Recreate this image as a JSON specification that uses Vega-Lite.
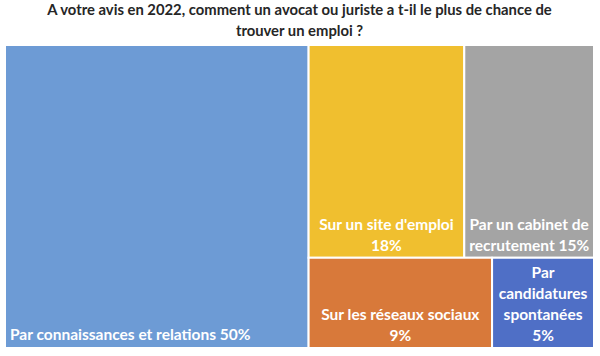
{
  "$schema": "https://vega.github.io/schema/vega-lite/v6.json",
  "width": 589,
  "height": 303,
  "autosize": "none",
  "padding": {"left": 5, "top": 45, "right": 6, "bottom": 8},
  "background": "white",
  "title": {
    "text": ["A votre avis en 2022, comment un avocat ou juriste a t-il le plus de chance de", "trouver un emploi ?"],
    "font": "Lato",
    "fontSize": 14.8,
    "fontWeight": "bold",
    "color": "#262626",
    "anchor": "middle",
    "lineHeight": 21,
    "offset": 5
  },
  "config": {"view": {"stroke": null}},
  "data": {
    "values": [
      {"categorie": "Par connaissances et relations", "pct": 50, "col": "A", "row": "A", "ord": 1, "label": ["Par connaissances et relations 50%"]},
      {"categorie": "Sur un site d'emploi", "pct": 18, "col": "B", "row": "1", "ord": 2, "label": ["Sur un site d'emploi", "18%"]},
      {"categorie": "Par un cabinet de recrutement", "pct": 15, "col": "B", "row": "1", "ord": 3, "label": ["Par un cabinet de", "recrutement 15%"]},
      {"categorie": "Sur les réseaux sociaux", "pct": 9, "col": "B", "row": "2", "ord": 4, "label": ["Sur les réseaux sociaux", "9%"]},
      {"categorie": "Par candidatures spontanées", "pct": 5, "col": "B", "row": "2", "ord": 5, "label": ["Par", "candidatures", "spontanées", "5%"]}
    ]
  },
  "transform": [
    {"window": [{"op": "sum", "field": "pct", "as": "cumAll"}], "sort": [{"field": "ord"}], "frame": [null, 0]},
    {"window": [{"op": "sum", "field": "pct", "as": "colCum"}], "groupby": ["col"], "sort": [{"field": "ord"}], "frame": [null, 0]},
    {"window": [{"op": "sum", "field": "pct", "as": "rowCum"}], "groupby": ["col", "row"], "sort": [{"field": "ord"}], "frame": [null, 0]},
    {"joinaggregate": [{"op": "sum", "field": "pct", "as": "colSum"}], "groupby": ["col"]},
    {"joinaggregate": [{"op": "sum", "field": "pct", "as": "rowSum"}], "groupby": ["col", "row"]},
    {"calculate": "datum.cumAll - datum.colCum", "as": "colStart"},
    {"calculate": "datum.colCum - datum.rowCum", "as": "rowStart"},
    {"calculate": "datum.rowStart / datum.colSum", "as": "y0"},
    {"calculate": "(datum.rowStart + datum.rowSum) / datum.colSum", "as": "y1"},
    {"calculate": "datum.colStart + (datum.rowCum - datum.pct) / datum.rowSum * datum.colSum", "as": "x0"},
    {"calculate": "datum.colStart + datum.rowCum / datum.rowSum * datum.colSum", "as": "x1"},
    {"calculate": "(datum.x0 + datum.x1) / 2", "as": "xc"},
    {"calculate": "datum.y1 - (length(datum.label) - 1) * 21 / 303", "as": "yText"}
  ],
  "layer": [
    {
      "mark": {"type": "rect", "stroke": "white", "strokeWidth": 2},
      "encoding": {
        "x": {"field": "x0", "type": "quantitative", "scale": {"domain": [0, 97], "nice": false, "zero": false}, "axis": null},
        "x2": {"field": "x1"},
        "y": {"field": "y0", "type": "quantitative", "scale": {"domain": [0, 1], "reverse": true, "nice": false}, "axis": null},
        "y2": {"field": "y1"},
        "color": {
          "field": "categorie",
          "type": "nominal",
          "scale": {
            "domain": ["Par connaissances et relations", "Sur un site d'emploi", "Par un cabinet de recrutement", "Sur les réseaux sociaux", "Par candidatures spontanées"],
            "range": ["#6d9bd5", "#f0bf2f", "#a4a4a4", "#d8793a", "#4f6fc6"]
          },
          "legend": null
        }
      }
    },
    {
      "transform": [{"filter": "datum.col == 'A'"}],
      "mark": {"type": "text", "align": "left", "baseline": "bottom", "dx": 5, "dy": -5, "font": "Lato", "fontSize": 15.5, "fontWeight": "bold", "color": "white", "lineHeight": 21},
      "encoding": {
        "x": {"field": "x0", "type": "quantitative"},
        "y": {"field": "yText", "type": "quantitative"},
        "text": {"field": "label"}
      }
    },
    {
      "transform": [{"filter": "datum.col != 'A'"}],
      "mark": {"type": "text", "align": "center", "baseline": "bottom", "dy": -4, "font": "Lato", "fontSize": 15.5, "fontWeight": "bold", "color": "white", "lineHeight": 21},
      "encoding": {
        "x": {"field": "xc", "type": "quantitative"},
        "y": {"field": "yText", "type": "quantitative"},
        "text": {"field": "label"}
      }
    }
  ]
}
